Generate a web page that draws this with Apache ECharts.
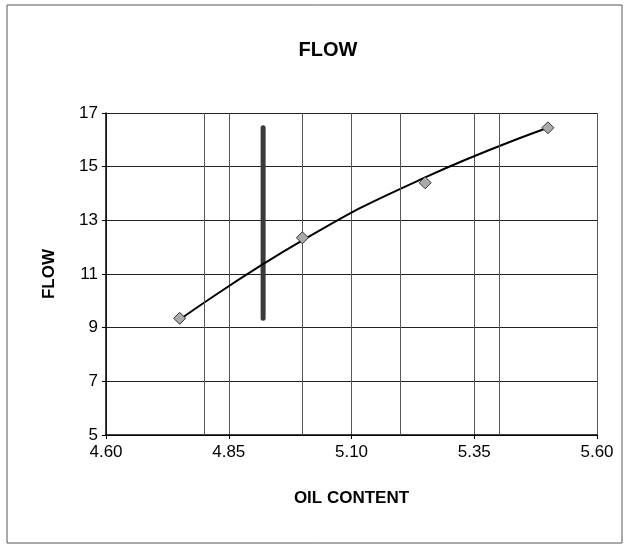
<!DOCTYPE html>
<html>
<head>
<meta charset="utf-8">
<title>FLOW</title>
<script src="https://cdn.jsdelivr.net/npm/echarts@6/dist/echarts.min.js"></script>
<style>
  html, body { margin: 0; padding: 0; background: #fff; }
  #chart { width: 629px; height: 548px; }
</style>
</head>
<body>
<div id="chart"></div>
<script>
// data
var oilContent = [4.75, 5.00, 5.25, 5.50];
var flow = [9.35, 12.35, 14.4, 16.45];
// the trend curve, read at the same oil contents
var trendFlow = [9.3, 12.25, 14.6, 16.45];
// the thick vertical bar
var barX = [4.92, 4.92];
var barY = [9.35, 16.45];
// the extra vertical lines drawn on the plot
var extraLines = [4.80, 5.00, 5.20, 5.40];

var chart = echarts.init(document.getElementById('chart'));
var font = 'Liberation Sans, Arial, sans-serif';

var option = {
  backgroundColor: '#fff',
  animation: false,
  title: {
    text: 'FLOW',
    left: 323,
    top: 35,
    textAlign: 'center',
    textStyle: { fontFamily: font, fontSize: 20, fontWeight: 'bold', color: '#000' }
  },
  graphic: [{
    type: 'rect',
    shape: { x: 7, y: 5, width: 615, height: 538 },
    style: { fill: 'none', stroke: '#555', lineWidth: 1 },
    silent: true
  }],
  grid: { left: 106, right: 32, top: 113, bottom: 113 },
  xAxis: {
    type: 'value',
    min: 4.60,
    max: 5.60,
    interval: 0.25,
    name: 'OIL CONTENT',
    nameLocation: 'middle',
    nameGap: 55,
    nameTextStyle: { fontFamily: font, fontSize: 17, fontWeight: 'bold', color: '#000' },
    axisLine: { show: true, lineStyle: { color: '#000', width: 1.5 } },
    axisTick: { show: true, length: 4, lineStyle: { color: '#000' } },
    axisLabel: {
      fontFamily: font, fontSize: 17, color: '#000', margin: 9,
      formatter: function (v) { return v.toFixed(2); }
    },
    splitLine: { show: true, lineStyle: { color: '#555', width: 1 } }
  },
  yAxis: {
    type: 'value',
    min: 5,
    max: 17,
    interval: 2,
    name: 'FLOW',
    nameLocation: 'middle',
    nameGap: 48,
    nameRotate: 90,
    nameTextStyle: { fontFamily: font, fontSize: 17, fontWeight: 'bold', color: '#000' },
    axisLine: { show: true, lineStyle: { color: '#000', width: 1.5 } },
    axisTick: { show: true, length: 4, lineStyle: { color: '#000' } },
    axisLabel: { fontFamily: font, fontSize: 17, color: '#000', margin: 8 },
    splitLine: { show: true, lineStyle: { color: '#222', width: 1 } }
  },
  series: [
    {
      // extra vertical lines
      type: 'line',
      data: [],
      silent: true,
      markLine: {
        silent: true,
        symbol: 'none',
        label: { show: false },
        lineStyle: { color: '#555', width: 1, type: 'solid' },
        data: extraLines.map(function (x) { return { xAxis: x }; })
      }
    },
    {
      type: 'line',
      data: barX.map(function (x, i) { return [x, barY[i]]; }),
      showSymbol: false,
      lineStyle: { color: '#3a3a3a', width: 5, cap: 'round' },
      z: 3
    },
    {
      // trend curve
      type: 'line',
      data: oilContent.map(function (x, i) { return [x, trendFlow[i]]; }),
      smooth: 0.5,
      showSymbol: false,
      lineStyle: { color: '#000', width: 2 },
      z: 4
    },
    {
      type: 'scatter',
      data: oilContent.map(function (x, i) { return [x, flow[i]]; }),
      symbol: 'diamond',
      symbolSize: 12,
      itemStyle: { color: '#aaa', borderColor: '#333', borderWidth: 1, opacity: 1 },
      z: 5
    }
  ]
};

chart.setOption(option);
</script>
</body>
</html>
